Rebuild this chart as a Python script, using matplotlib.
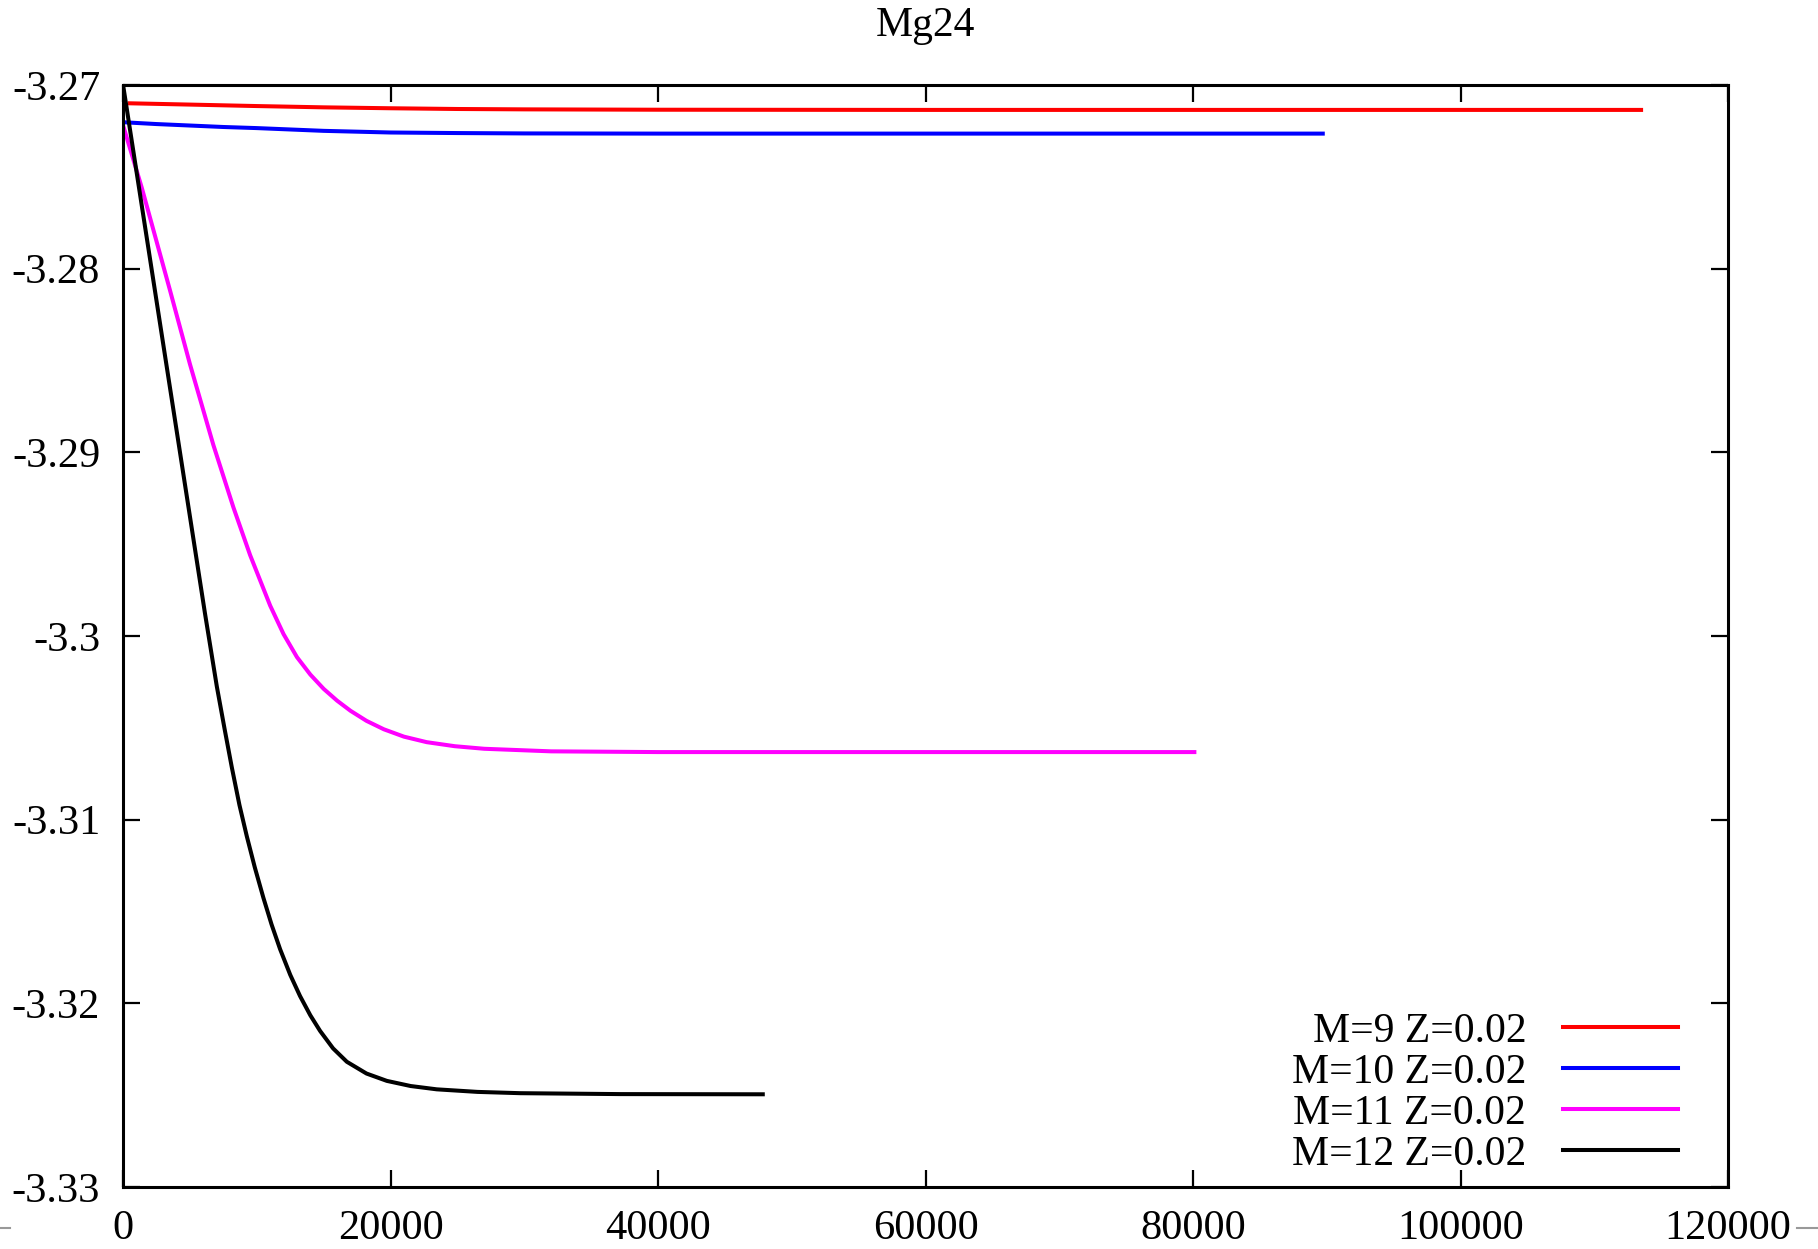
import matplotlib
matplotlib.use("Agg")
import matplotlib.pyplot as plt
from matplotlib.lines import Line2D

plt.rcParams['font.family'] = ['Liberation Serif', 'DejaVu Serif']

# M=9
x_m9 = [500, 5000, 10000, 15000, 20000, 25000, 30000, 40000, 60000, 80000, 100000, 113500]
y_m9 = [-3.27100, -3.27107, -3.27115, -3.27122, -3.27127, -3.27131, -3.27133,
        -3.27135, -3.27136, -3.27136, -3.27136, -3.27136]

# M=10
x_m10 = [0, 2500, 5000, 7500, 10000, 15000, 20000, 25000, 30000, 40000, 60000, 89700]
y_m10 = [-3.27203, -3.27213, -3.27221, -3.27229, -3.27235, -3.27250, -3.27259,
         -3.27262, -3.27264, -3.27265, -3.27265, -3.27265]

# M=11
x_m11 = [0, 1400, 3500, 5000, 6750, 8250, 9500, 11000, 12000, 13000, 14000, 15000,
         16000, 17000, 18200, 19500, 21000, 22700, 24800, 27000, 32000, 40000,
         60000, 80100]
y_m11 = [-3.27220, -3.27560, -3.28116, -3.28520, -3.28960, -3.29300, -3.29560,
         -3.29835, -3.29990, -3.30115, -3.30210, -3.30288, -3.30352, -3.30407,
         -3.30462, -3.30508, -3.30548, -3.30578, -3.30600, -3.30614, -3.30628,
         -3.30632, -3.30632, -3.30632]

# M=12
x_m12 = [0, 1400, 2270, 3010, 3760, 4640, 5260, 6130, 7010, 7600, 8130, 8700,
         9250, 9850, 10490, 11100, 11740, 12500, 13230, 14000, 14730, 15700,
         16730, 18200, 19720, 21500, 23450, 26500, 29700, 37200, 47830]
y_m12 = [-3.27000, -3.27658, -3.28067, -3.28415, -3.28767, -3.29181, -3.29472,
         -3.29880, -3.30275, -3.30510, -3.30715, -3.30920, -3.31090, -3.31260,
         -3.31425, -3.31570, -3.31705, -3.31845, -3.31960, -3.32065, -3.32150,
         -3.32245, -3.32318, -3.32382, -3.32422, -3.32450, -3.32468, -3.32482,
         -3.32489, -3.32494, -3.32495]

series = [
    (x_m9, y_m9, "M=9 Z=0.02", "#ff0000"),
    (x_m10, y_m10, "M=10 Z=0.02", "#0000ff"),
    (x_m11, y_m11, "M=11 Z=0.02", "#ff00ff"),
    (x_m12, y_m12, "M=12 Z=0.02", "#000000"),
]

xticks = [0, 20000, 40000, 60000, 80000, 100000, 120000]
xlabels = ["0", "20000", "40000", "60000", "80000", "100000", "120000"]
yticks = [-3.33, -3.32, -3.31, -3.30, -3.29, -3.28, -3.27]
ylabels = ["-3.33", "-3.32", "-3.31", "-3.3", "-3.29", "-3.28", "-3.27"]

fig, ax = plt.subplots(figsize=(18.18, 12.49), dpi=100)
fig.subplots_adjust(left=0.0677, right=0.9505, bottom=0.0496, top=0.932)

for xs, ys, lab, col in series:
    ax.plot(xs, ys, color=col, lw=2.9, label=lab)

ax.set_xlim(0, 120000)
ax.set_ylim(-3.33, -3.27)
ax.set_xticks(xticks, labels=xlabels)
ax.set_yticks(yticks, labels=ylabels)
ax.tick_params(direction='in', length=12, width=1.6, labelsize=30.5,
               top=True, right=True)
ax.tick_params(axis='y', pad=16.5)
ax.tick_params(axis='x', pad=16)
for sp in ax.spines.values():
    sp.set_linewidth(2.2)

ax.set_title("Mg24", fontsize=30, pad=35)

leg = ax.legend(loc='lower right', bbox_to_anchor=(0.969, 0.012),
                frameon=False, fontsize=30, markerfirst=False,
                handlelength=2.76, handletextpad=0.89, labelspacing=0.06,
                borderpad=0, borderaxespad=0)
# right-align the legend rows like gnuplot does
for col in leg._legend_handle_box.get_children():
    col.align = 'right'

# small grey dashes at the image edges
fig.add_artist(Line2D([0, 10 / 1818], [0.0168, 0.0168], transform=fig.transFigure,
                      color='#999999', lw=1.5))
fig.add_artist(Line2D([1797 / 1818, 1], [0.0168, 0.0168], transform=fig.transFigure,
                      color='#999999', lw=1.5))

fig.savefig("out.png", dpi=100)
